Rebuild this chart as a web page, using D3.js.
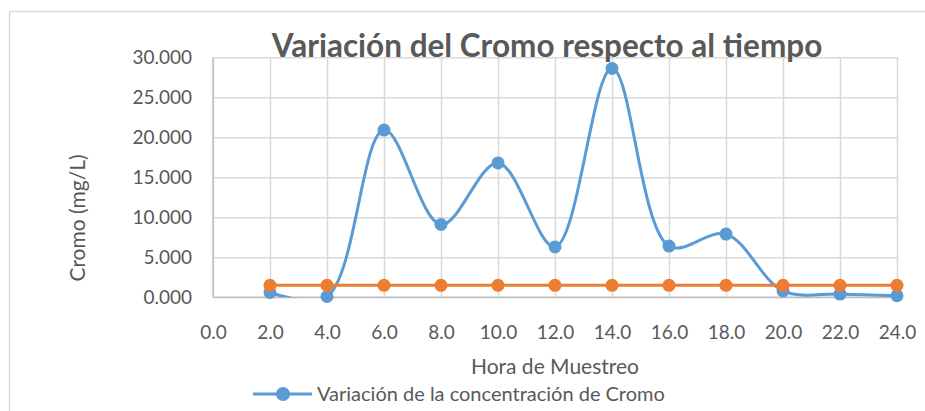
<!DOCTYPE html>
<html>
<head>
<meta charset="utf-8">
<script src="https://cdn.jsdelivr.net/npm/d3@7"></script>
<style>
	body { margin: 0; background: #fff; }
	svg { display: block; font-family: Lato, 'Open Sans', sans-serif; }
</style>
</head>
<body>
<div id="chart"></div>
<script>
const hours = [2, 4, 6, 8, 10, 12, 14, 16, 18, 20, 22, 24];
const cromo = [0.6, 0.1, 20.9, 9.1, 16.8, 6.3, 28.6, 6.4, 7.9, 0.8, 0.4, 0.2];
const limite = [1.5, 1.5, 1.5, 1.5, 1.5, 1.5, 1.5, 1.5, 1.5, 1.5, 1.5, 1.5];
const xTicks = [0, 2, 4, 6, 8, 10, 12, 14, 16, 18, 20, 22, 24];
const yTicks = [0, 5, 10, 15, 20, 25, 30];

const title = 'Variación del Cromo respecto al tiempo';
const xTitle = 'Hora de Muestreo';
const yTitle = 'Cromo (mg/L)';
const legendLabel = 'Variación de la concentración de Cromo';

const width = 925;
const height = 411;
const plot = { left: 213, right: 897, top: 57.3, bottom: 297.3 };
const textColor = '#595959';
const blue = '#5B9BD5';
const orange = '#ED7D31';

const svg = d3.select('#chart')
	.append('svg')
	.attr('width', width)
	.attr('height', height);

// chart frame
svg.append('rect')
	.attr('x', 9.5)
	.attr('y', 11.5)
	.attr('width', 1000)
	.attr('height', 500)
	.attr('fill', '#fff')
	.attr('stroke', '#D9D9D9')
	.attr('stroke-width', 1.5);

const x = d3.scaleLinear().domain([0, 24]).range([plot.left, plot.right]);
const y = d3.scaleLinear().domain([0, 30]).range([plot.bottom, plot.top]);

// grid
svg.append('g')
	.attr('transform', `translate(0,${plot.bottom})`)
	.call(d3.axisBottom(x).tickValues(xTicks).tickSize(-(plot.bottom - plot.top)).tickFormat(''))
	.call(g => g.select('.domain').remove())
	.call(g => g.selectAll('line').attr('stroke', '#D9D9D9').attr('stroke-width', 1.5));

svg.append('g')
	.attr('transform', `translate(${plot.left},0)`)
	.call(d3.axisLeft(y).tickValues(yTicks).tickSize(-(plot.right - plot.left)).tickFormat(''))
	.call(g => g.select('.domain').remove())
	.call(g => g.selectAll('line').attr('stroke', '#D9D9D9').attr('stroke-width', 1.5));

// axis lines
svg.append('line')
	.attr('x1', plot.left).attr('x2', plot.right)
	.attr('y1', plot.bottom).attr('y2', plot.bottom)
	.attr('stroke', '#BFBFBF').attr('stroke-width', 1.5);
svg.append('line')
	.attr('x1', plot.left).attr('x2', plot.left)
	.attr('y1', plot.top).attr('y2', plot.bottom)
	.attr('stroke', '#BFBFBF').attr('stroke-width', 1.5);

// tick labels
svg.append('g')
	.attr('transform', `translate(0,${plot.bottom})`)
	.call(d3.axisBottom(x).tickValues(xTicks).tickSize(0).tickPadding(28).tickFormat(d3.format('.1f')))
	.call(g => g.select('.domain').remove())
	.call(g => g.selectAll('text')
		.attr('fill', textColor)
		.attr('font-size', 19)
		.attr('font-family', 'Lato, sans-serif'));

svg.append('g')
	.attr('transform', `translate(${plot.left},0)`)
	.call(d3.axisLeft(y).tickValues(yTicks).tickSize(0).tickPadding(21).tickFormat(d3.format('.3f')))
	.call(g => g.select('.domain').remove())
	.call(g => g.selectAll('text')
		.attr('fill', textColor)
		.attr('font-size', 19)
		.attr('font-family', 'Lato, sans-serif'));

// series
svg.append('clipPath')
	.attr('id', 'plot-clip')
	.append('rect')
	.attr('x', plot.left)
	.attr('y', plot.top - 20)
	.attr('width', plot.right - plot.left + 10)
	.attr('height', plot.bottom - plot.top + 20);

const line = d3.line()
	.x(d => x(d[0]))
	.y(d => y(d[1]))
	.curve(d3.curveCatmullRom.alpha(0.5));

const blueData = hours.map((h, i) => [h, cromo[i]]);
const orangeData = hours.map((h, i) => [h, limite[i]]);

svg.append('path')
	.datum(blueData)
	.attr('clip-path', 'url(#plot-clip)')
	.attr('d', line)
	.attr('fill', 'none')
	.attr('stroke', blue)
	.attr('stroke-width', 3)
	.attr('stroke-linejoin', 'round');

svg.append('g')
	.selectAll('circle')
	.data(blueData)
	.enter()
	.append('circle')
	.attr('cx', d => x(d[0]))
	.attr('cy', d => y(d[1]))
	.attr('r', 6.5)
	.attr('fill', blue);

svg.append('path')
	.datum(orangeData)
	.attr('d', line)
	.attr('fill', 'none')
	.attr('stroke', orange)
	.attr('stroke-width', 3);

svg.append('g')
	.selectAll('circle')
	.data(orangeData)
	.enter()
	.append('circle')
	.attr('cx', d => x(d[0]))
	.attr('cy', d => y(d[1]))
	.attr('r', 6.5)
	.attr('fill', orange);

// titles
svg.append('text')
	.attr('x', 547)
	.attr('y', 57)
	.attr('text-anchor', 'middle')
	.attr('font-size', 31.5)
	.attr('font-weight', 'bold')
	.attr('fill', textColor)
	.text(title);

svg.append('text')
	.attr('x', 555)
	.attr('y', 374)
	.attr('text-anchor', 'middle')
	.attr('font-size', 21)
	.attr('fill', textColor)
	.text(xTitle);

svg.append('text')
	.attr('transform', 'translate(85,218) rotate(-90)')
	.attr('text-anchor', 'middle')
	.attr('font-size', 21)
	.attr('fill', textColor)
	.text(yTitle);

// legend
const legend = svg.append('g').attr('transform', 'translate(253,394)');

legend.append('line')
	.attr('x1', 0).attr('x2', 59)
	.attr('stroke', blue)
	.attr('stroke-width', 3);

legend.append('circle')
	.attr('cx', 30)
	.attr('r', 7)
	.attr('fill', blue);

legend.append('text')
	.attr('x', 64)
	.attr('y', 7)
	.attr('font-size', 20)
	.attr('fill', textColor)
	.text(legendLabel);
</script>
</body>
</html>
